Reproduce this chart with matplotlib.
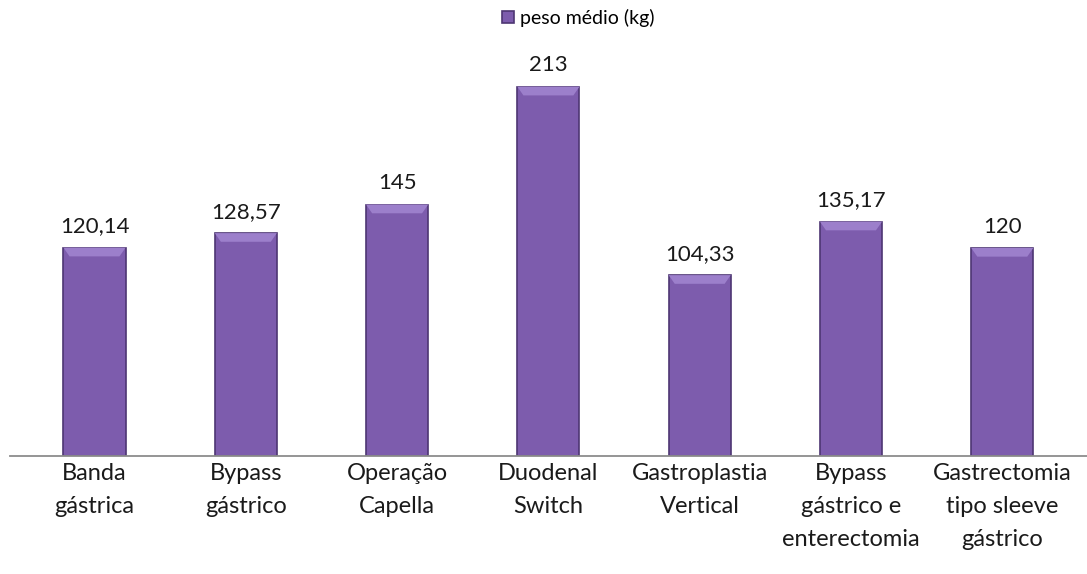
import matplotlib.pyplot as plt
from matplotlib.patches import Polygon
import numpy as np

categorias = ['Banda\ngástrica', 'Bypass\ngástrico', 'Operação\nCapella', 'Duodenal\nSwitch',
              'Gastroplastia\nVertical', 'Bypass\ngástrico e\nenterectomia', 'Gastrectomia\ntipo sleeve\ngástrico']
peso = [120.14, 128.57, 145, 213, 104.33, 135.17, 120]
rotulos = ['120,14', '128,57', '145', '213', '104,33', '135,17', '120']

plt.rcParams['font.family'] = ['Lato', 'DejaVu Sans']

fig = plt.figure(figsize=(10.87, 5.74), dpi=100)
ax = fig.add_axes([0.009, 0.2056, 0.991, 0.755])

x = np.arange(len(peso))
w = 0.41
bars = ax.bar(x, peso, width=w, color='#7D5CAD', edgecolor='#4E3673', linewidth=1.2,
              label='peso médio (kg)', zorder=2)

# bevel on top of each bar + value labels
for xi, v, r in zip(x, peso, rotulos):
    d = 5
    top = Polygon([(xi - w / 2, v), (xi + w / 2, v), (xi + w / 2 - 0.04, v - d), (xi - w / 2 + 0.04, v - d)],
                  closed=True, facecolor='#9C7FCB', edgecolor='none', zorder=3)
    ax.add_patch(top)
    ax.text(xi, v + 6.5, r, ha='center', va='bottom', fontsize=16, color='#1a1a1a')

ax.set_xlim(-0.56, len(peso) - 0.44)
ax.set_ylim(0, 250)
for s in ['top', 'right', 'left']:
    ax.spines[s].set_visible(False)
ax.spines['bottom'].set_color('#8C8C8C')
ax.spines['bottom'].set_linewidth(1.3)
ax.set_yticks([])
ax.set_xticks(x)
ax.set_xticklabels(categorias, fontsize=17, color='#1a1a1a', va='top', linespacing=1.7)
ax.tick_params(axis='x', length=0, pad=5)

leg = fig.legend(handles=[bars], labels=['peso médio (kg)'], loc='upper center', bbox_to_anchor=(0.532, 1.015),
                 frameon=False, fontsize=14, handlelength=0.6, handleheight=0.6, handletextpad=0.3)

fig.savefig('out.png', dpi=100)
